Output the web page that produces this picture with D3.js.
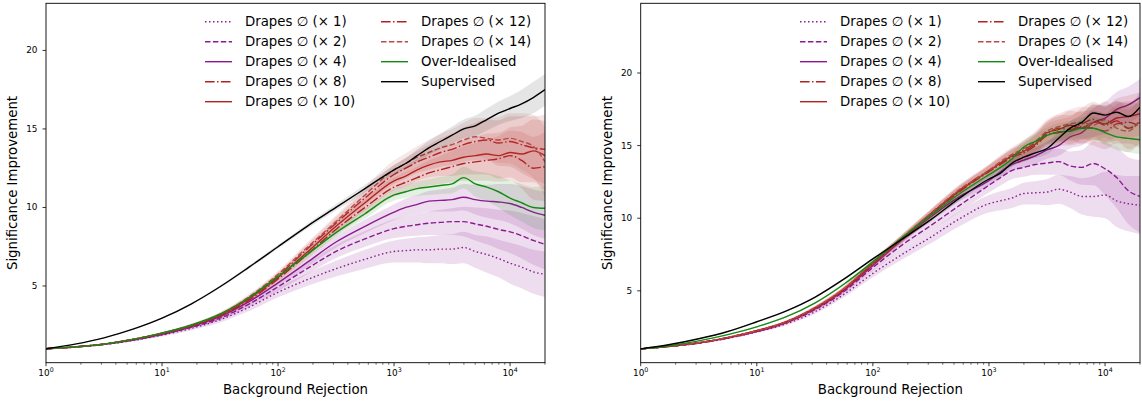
<!DOCTYPE html>
<html>
<head>
<meta charset="utf-8">
<script src="https://cdn.jsdelivr.net/npm/d3@7"></script>
<style>
  body { margin: 0; background: #fff; }
  text { font-family: "DejaVu Sans", sans-serif; fill: #000; }
</style>
</head>
<body>
<svg id="chart" width="1142" height="401"></svg>
<script>
// background rejection values the curves are sampled at
const xVals = [1, 1.78, 3.16, 5.62, 10, 17.8, 31.6, 56.2, 100, 178, 316, 562, 1000, 1259, 1585, 1995, 2512, 3162, 3981, 5012, 6310, 7943, 10000, 12589, 15849, 20000]

const labels = ['Drapes ∅ (× 1)', 'Drapes ∅ (× 2)', 'Drapes ∅ (× 4)', 'Drapes ∅ (× 8)', 'Drapes ∅ (× 10)',
  'Drapes ∅ (× 12)', 'Drapes ∅ (× 14)', 'Over-Idealised', 'Supervised']
const keys = ['d1', 'd2', 'd4', 'd8', 'd10', 'd12', 'd14', 'ideal', 'sup']
const yTicks = [5, 10, 15, 20]

// left panel
const leftD1 = [1.0, 1.11, 1.27, 1.53, 1.87, 2.3, 2.85, 3.65, 4.6, 5.4, 6.1, 6.7, 7.2, 7.25, 7.3, 7.3, 7.35, 7.35, 7.45, 7.2, 7.0, 6.75, 6.45, 6.2, 5.9, 5.75]
const leftD2 = [1.0, 1.11, 1.28, 1.55, 1.91, 2.37, 2.95, 3.85, 4.95, 6.1, 7.2, 8.0, 8.65, 8.8, 8.9, 9.0, 9.05, 9.1, 9.1, 8.95, 8.8, 8.6, 8.45, 8.2, 7.9, 7.65]
const leftD4 = [1.0, 1.12, 1.29, 1.57, 1.94, 2.42, 3.05, 4.0, 5.2, 6.5, 7.8, 8.8, 9.7, 10.0, 10.2, 10.4, 10.45, 10.5, 10.65, 10.5, 10.4, 10.35, 10.25, 10.0, 9.7, 9.5]
const leftD8 = [1.0, 1.12, 1.3, 1.59, 1.96, 2.45, 3.1, 4.1, 5.45, 7.0, 8.6, 10.0, 11.3, 11.6, 11.9, 12.2, 12.4, 12.6, 12.8, 12.9, 13.0, 13.1, 13.3, 13.0, 12.5, 12.6]
const leftD10 = [1.0, 1.12, 1.3, 1.6, 1.98, 2.47, 3.15, 4.2, 5.55, 7.15, 8.8, 10.3, 11.7, 12.0, 12.4, 12.7, 12.9, 13.0, 13.2, 13.3, 13.4, 13.3, 13.5, 13.4, 13.6, 13.3]
const leftD12 = [1.0, 1.12, 1.3, 1.6, 1.99, 2.49, 3.18, 4.25, 5.65, 7.35, 9.0, 10.6, 12.1, 12.5, 12.9, 13.2, 13.5, 13.7, 14.0, 14.2, 14.3, 14.1, 14.2, 14.0, 13.8, 13.7]
const leftD14 = [1.0, 1.12, 1.31, 1.61, 2.0, 2.5, 3.2, 4.3, 5.75, 7.45, 9.1, 10.8, 12.4, 12.8, 13.2, 13.5, 13.8, 14.0, 14.3, 14.5, 14.4, 14.3, 14.4, 14.2, 13.9, 12.9]
const leftIdeal = [1.0, 1.12, 1.3, 1.6, 2.0, 2.5, 3.2, 4.25, 5.6, 7.0, 8.4, 9.6, 10.8, 11.0, 11.2, 11.3, 11.4, 11.5, 11.9, 11.5, 11.3, 11.0, 10.6, 10.3, 10.0, 9.95]
const leftSup = [1.0, 1.3, 1.7, 2.25, 2.95, 3.85, 4.95, 6.2, 7.5, 8.8, 10.0, 11.2, 12.4, 12.8, 13.3, 13.8, 14.2, 14.6, 15.0, 15.2, 15.6, 16.0, 16.3, 16.6, 17.0, 17.5]

// left panel band half-widths
const leftBandD1 = [0, 0.02, 0.04, 0.06, 0.09, 0.13, 0.18, 0.25, 0.32, 0.4, 0.5, 0.6, 0.7, 0.75, 0.8, 0.85, 0.9, 0.95, 1.0, 1.05, 1.15, 1.2, 1.3, 1.35, 1.4, 1.45]
const leftBandD2 = [0, 0.02, 0.03, 0.05, 0.08, 0.11, 0.15, 0.2, 0.27, 0.35, 0.42, 0.5, 0.6, 0.65, 0.7, 0.75, 0.8, 0.85, 0.95, 1.05, 1.15, 1.25, 1.35, 1.45, 1.55, 1.6]
const leftBandD4 = [0, 0.02, 0.03, 0.05, 0.07, 0.1, 0.13, 0.17, 0.22, 0.3, 0.36, 0.43, 0.5, 0.55, 0.6, 0.65, 0.7, 0.75, 0.85, 0.95, 1.05, 1.15, 1.25, 1.35, 1.45, 1.5]
const leftBandRed = [0, 0.02, 0.03, 0.05, 0.07, 0.1, 0.13, 0.17, 0.22, 0.3, 0.4, 0.5, 0.6, 0.65, 0.7, 0.8, 0.9, 1.0, 1.1, 1.2, 1.3, 1.45, 1.6, 1.8, 2.0, 2.2]
const leftBandIdeal = [0, 0.02, 0.03, 0.04, 0.05, 0.06, 0.08, 0.1, 0.15, 0.2, 0.25, 0.3, 0.35, 0.4, 0.45, 0.5, 0.55, 0.6, 0.7, 0.8, 0.9, 1.0, 1.1, 1.2, 1.3, 1.4]
const leftBandSup = [0, 0.02, 0.03, 0.04, 0.05, 0.06, 0.08, 0.1, 0.12, 0.15, 0.2, 0.25, 0.3, 0.35, 0.4, 0.45, 0.5, 0.55, 0.6, 0.65, 0.7, 0.75, 0.8, 0.9, 1.0, 1.0]

// right panel
const rightD1 = [1.0, 1.17, 1.39, 1.73, 2.17, 2.72, 3.55, 4.75, 6.2, 7.5, 8.7, 9.98, 11.0, 11.2, 11.4, 11.7, 11.75, 11.8, 12.0, 11.8, 11.5, 11.5, 11.6, 11.2, 11.0, 10.9]
const rightD2 = [1.0, 1.18, 1.4, 1.75, 2.2, 2.8, 3.7, 4.95, 6.6, 8.15, 9.5, 10.9, 12.27, 12.8, 13.3, 13.5, 13.7, 13.8, 13.9, 13.6, 13.5, 13.77, 13.4, 12.8, 11.9, 11.5]
const rightD4 = [1.0, 1.18, 1.41, 1.76, 2.22, 2.82, 3.75, 5.05, 6.75, 8.5, 10.1, 11.5, 12.6, 13.2, 13.7, 14.0, 14.3, 14.7, 15.0, 15.6, 15.9, 16.6, 16.9, 17.5, 17.8, 18.3]
const rightD8 = [1.0, 1.18, 1.42, 1.78, 2.25, 2.85, 3.8, 5.1, 6.85, 8.55, 10.25, 11.85, 13.2, 13.7, 14.2, 14.5, 15.0, 15.7, 15.9, 16.0, 16.3, 16.2, 16.0, 16.5, 16.6, 16.3]
const rightD10 = [1.0, 1.18, 1.42, 1.78, 2.25, 2.85, 3.8, 5.1, 6.9, 8.6, 10.3, 11.9, 13.25, 13.8, 14.3, 14.6, 15.1, 15.9, 16.1, 16.4, 16.2, 16.6, 16.5, 16.9, 17.0, 17.2]
const rightD12 = [1.0, 1.18, 1.42, 1.78, 2.25, 2.86, 3.82, 5.12, 6.9, 8.6, 10.3, 11.95, 13.3, 13.8, 14.3, 14.7, 15.2, 15.8, 16.2, 16.1, 16.5, 16.8, 16.4, 16.7, 16.2, 16.6]
const rightD14 = [1.0, 1.18, 1.42, 1.79, 2.26, 2.87, 3.84, 5.15, 6.95, 8.65, 10.35, 12.0, 13.3, 13.9, 14.4, 14.8, 15.3, 16.0, 16.3, 16.5, 16.6, 16.4, 16.8, 16.2, 16.0, 16.8]
const rightIdeal = [1.0, 1.22, 1.55, 1.98, 2.52, 3.2, 4.15, 5.45, 7.0, 8.65, 10.2, 11.7, 13.0, 13.5, 14.1, 14.9, 15.3, 15.7, 15.95, 16.0, 16.2, 16.2, 15.9, 15.6, 15.5, 15.4]
const rightSup = [1.0, 1.3, 1.7, 2.2, 2.87, 3.6, 4.55, 5.8, 7.2, 8.55, 9.9, 11.4, 12.7, 13.1, 13.8, 14.2, 14.5, 14.8, 15.5, 16.2, 16.6, 17.25, 17.1, 17.3, 17.0, 17.65]

// right panel band half-widths
const rightBandD1 = [0, 0.02, 0.04, 0.06, 0.08, 0.11, 0.15, 0.2, 0.27, 0.35, 0.43, 0.52, 0.6, 0.65, 0.7, 0.75, 0.8, 0.9, 1.0, 1.1, 1.25, 1.4, 1.6, 1.8, 1.9, 2.0]
const rightBandD2 = [0, 0.02, 0.03, 0.05, 0.07, 0.1, 0.13, 0.17, 0.22, 0.3, 0.37, 0.44, 0.5, 0.55, 0.6, 0.65, 0.7, 0.8, 0.9, 1.0, 1.2, 1.5, 1.8, 2.1, 2.3, 2.5]
const rightBandD4 = [0, 0.02, 0.03, 0.04, 0.06, 0.08, 0.1, 0.14, 0.18, 0.24, 0.28, 0.32, 0.35, 0.4, 0.45, 0.5, 0.55, 0.6, 0.7, 0.8, 0.9, 1.0, 1.1, 1.2, 1.25, 1.3]
const rightBandRed = [0, 0.02, 0.03, 0.05, 0.07, 0.09, 0.12, 0.16, 0.2, 0.26, 0.3, 0.35, 0.4, 0.45, 0.5, 0.6, 0.7, 0.8, 0.9, 1.0, 1.1, 1.2, 1.25, 1.35, 1.45, 1.5]
const rightBandIdeal = [0, 0.02, 0.03, 0.04, 0.05, 0.06, 0.08, 0.1, 0.13, 0.17, 0.21, 0.25, 0.3, 0.35, 0.4, 0.45, 0.5, 0.55, 0.6, 0.7, 0.75, 0.8, 0.85, 0.9, 0.95, 1.0]
const rightBandSup = [0, 0.02, 0.03, 0.04, 0.05, 0.06, 0.07, 0.08, 0.1, 0.12, 0.15, 0.18, 0.2, 0.24, 0.28, 0.32, 0.36, 0.4, 0.45, 0.5, 0.55, 0.6, 0.65, 0.75, 0.9, 1.0]

const styles = {
  d1: { color: '#8b1a91', dash: '1.5,2.5' },
  d2: { color: '#8b1a91', dash: '5.5,2.4' },
  d4: { color: '#8b1a91', dash: null },
  d8: { color: '#b22222', dash: '9.6,2.4,1.5,2.4' },
  d10: { color: '#b22222', dash: null },
  d12: { color: '#b22222', dash: '9.6,2.4,1.5,2.4' },
  d14: { color: '#b94a4a', dash: '5.5,2.4' },
  ideal: { color: '#138a13', dash: null },
  sup: { color: '#000000', dash: null }
}
const bandAlpha = { d1: 0.15, d2: 0.15, d4: 0.15, d8: 0.13, d10: 0.13, d12: 0.13, d14: 0.13, ideal: 0.12, sup: 0.1 }

const panels = [
  {
    id: 'L', x0: 46, x1: 545, yDomain: [0.115, 23.0], legendX: [205, 381],
    values: { d1: leftD1, d2: leftD2, d4: leftD4, d8: leftD8, d10: leftD10, d12: leftD12, d14: leftD14, ideal: leftIdeal, sup: leftSup },
    bands: { d1: leftBandD1, d2: leftBandD2, d4: leftBandD4, d8: leftBandRed, d10: leftBandRed, d12: leftBandRed, d14: leftBandRed, ideal: leftBandIdeal, sup: leftBandSup }
  },
  {
    id: 'R', x0: 640.7, x1: 1140, yDomain: [0.05, 24.8], legendX: [800, 978],
    values: { d1: rightD1, d2: rightD2, d4: rightD4, d8: rightD8, d10: rightD10, d12: rightD12, d14: rightD14, ideal: rightIdeal, sup: rightSup },
    bands: { d1: rightBandD1, d2: rightBandD2, d4: rightBandD4, d8: rightBandRed, d10: rightBandRed, d12: rightBandRed, d14: rightBandRed, ideal: rightBandIdeal, sup: rightBandSup }
  }
]

const plotTop = 3.3
const plotBottom = 362.7
const svg = d3.select('svg#chart')

panels.forEach(panel => {
  const xScale = d3.scaleLog().domain([1, 20000]).range([panel.x0, panel.x1])
  const yScale = d3.scaleLinear().domain(panel.yDomain).range([plotBottom, plotTop])

  const g = svg.append('g')

  g.append('clipPath')
    .attr('id', 'clip' + panel.id)
    .append('rect')
    .attr('x', panel.x0)
    .attr('y', plotTop)
    .attr('width', panel.x1 - panel.x0)
    .attr('height', plotBottom - plotTop)

  const series = keys.map(k => ({
    key: k,
    points: xVals.map((x, i) => ({ x: x, v: panel.values[k][i], b: panel.bands[k][i] }))
  }))

  const area = d3.area()
    .curve(d3.curveMonotoneX)
    .x(p => xScale(p.x))
    .y0(p => yScale(p.v - p.b))
    .y1(p => yScale(p.v + p.b))

  const line = d3.line()
    .curve(d3.curveMonotoneX)
    .x(p => xScale(p.x))
    .y(p => yScale(p.v))

  const plot = g.append('g').attr('clip-path', `url(#clip${panel.id})`)

  series.forEach(s => {
    plot.append('path')
      .attr('d', area(s.points))
      .attr('fill', styles[s.key].color)
      .attr('fill-opacity', bandAlpha[s.key])
    plot.append('path')
      .attr('d', line(s.points))
      .attr('fill', 'none')
      .attr('stroke', styles[s.key].color)
      .attr('stroke-width', 1.4)
      .attr('stroke-dasharray', styles[s.key].dash)
  })

  // x axis ticks (log)
  const majors = [1, 10, 100, 1000, 10000]
  const minors = []
  for (let d = 1; d <= 10000; d *= 10) {
    for (let m = 2; m <= 9; m++) {
      if (d * m <= 20000) minors.push(d * m)
    }
  }
  g.selectAll('line.minor')
    .data(minors)
    .enter()
    .append('line')
    .attr('x1', d => xScale(d))
    .attr('x2', d => xScale(d))
    .attr('y1', plotBottom)
    .attr('y2', plotBottom + 2)
    .attr('stroke', '#000')
    .attr('stroke-width', 0.6)
  g.selectAll('line.major')
    .data(majors)
    .enter()
    .append('line')
    .attr('x1', d => xScale(d))
    .attr('x2', d => xScale(d))
    .attr('y1', plotBottom)
    .attr('y2', plotBottom + 3.5)
    .attr('stroke', '#000')
    .attr('stroke-width', 0.8)
  const xt = g.selectAll('text.xt')
    .data(majors)
    .enter()
    .append('text')
    .attr('x', d => xScale(d))
    .attr('y', 376)
    .attr('text-anchor', 'middle')
    .attr('font-size', '8.9px')
  xt.append('tspan').text('10')
  xt.append('tspan')
    .attr('dy', -3.6)
    .attr('font-size', '6.3px')
    .text(d => Math.round(Math.log10(d)))

  // y axis ticks
  g.selectAll('line.yt')
    .data(yTicks)
    .enter()
    .append('line')
    .attr('x1', panel.x0 - 3.5)
    .attr('x2', panel.x0)
    .attr('y1', d => yScale(d))
    .attr('y2', d => yScale(d))
    .attr('stroke', '#000')
    .attr('stroke-width', 0.8)
  g.selectAll('text.yt')
    .data(yTicks)
    .enter()
    .append('text')
    .attr('x', panel.x0 - 8.5)
    .attr('y', d => yScale(d))
    .attr('dy', '0.34em')
    .attr('text-anchor', 'end')
    .attr('font-size', '8.9px')
    .text(d => d)

  // frame
  g.append('rect')
    .attr('x', panel.x0)
    .attr('y', plotTop)
    .attr('width', panel.x1 - panel.x0)
    .attr('height', plotBottom - plotTop)
    .attr('fill', 'none')
    .attr('stroke', '#000')
    .attr('stroke-width', 0.9)

  // axis labels
  g.append('text')
    .attr('x', (panel.x0 + panel.x1) / 2)
    .attr('y', 394)
    .attr('text-anchor', 'middle')
    .attr('font-size', '13.3px')
    .text('Background Rejection')
  g.append('text')
    .attr('transform', `translate(${panel.x0 - 29},${(plotTop + plotBottom) / 2}) rotate(-90)`)
    .attr('text-anchor', 'middle')
    .attr('font-size', '13.3px')
    .text('Significance Improvement')

  // legend
  const legend = g.selectAll('g.legend')
    .data(keys)
    .enter()
    .append('g')
    .attr('transform', (k, i) => `translate(${panel.legendX[i < 5 ? 0 : 1]},${21.7 + (i < 5 ? i : i - 5) * 20})`)
  legend.append('line')
    .attr('x1', 0)
    .attr('x2', 27)
    .attr('stroke', k => styles[k].color)
    .attr('stroke-width', 1.4)
    .attr('stroke-dasharray', k => styles[k].dash)
  legend.append('text')
    .attr('x', 40)
    .attr('dy', '0.36em')
    .attr('font-size', '13.3px')
    .text((k, i) => labels[i])
})
</script>
</body>
</html>
